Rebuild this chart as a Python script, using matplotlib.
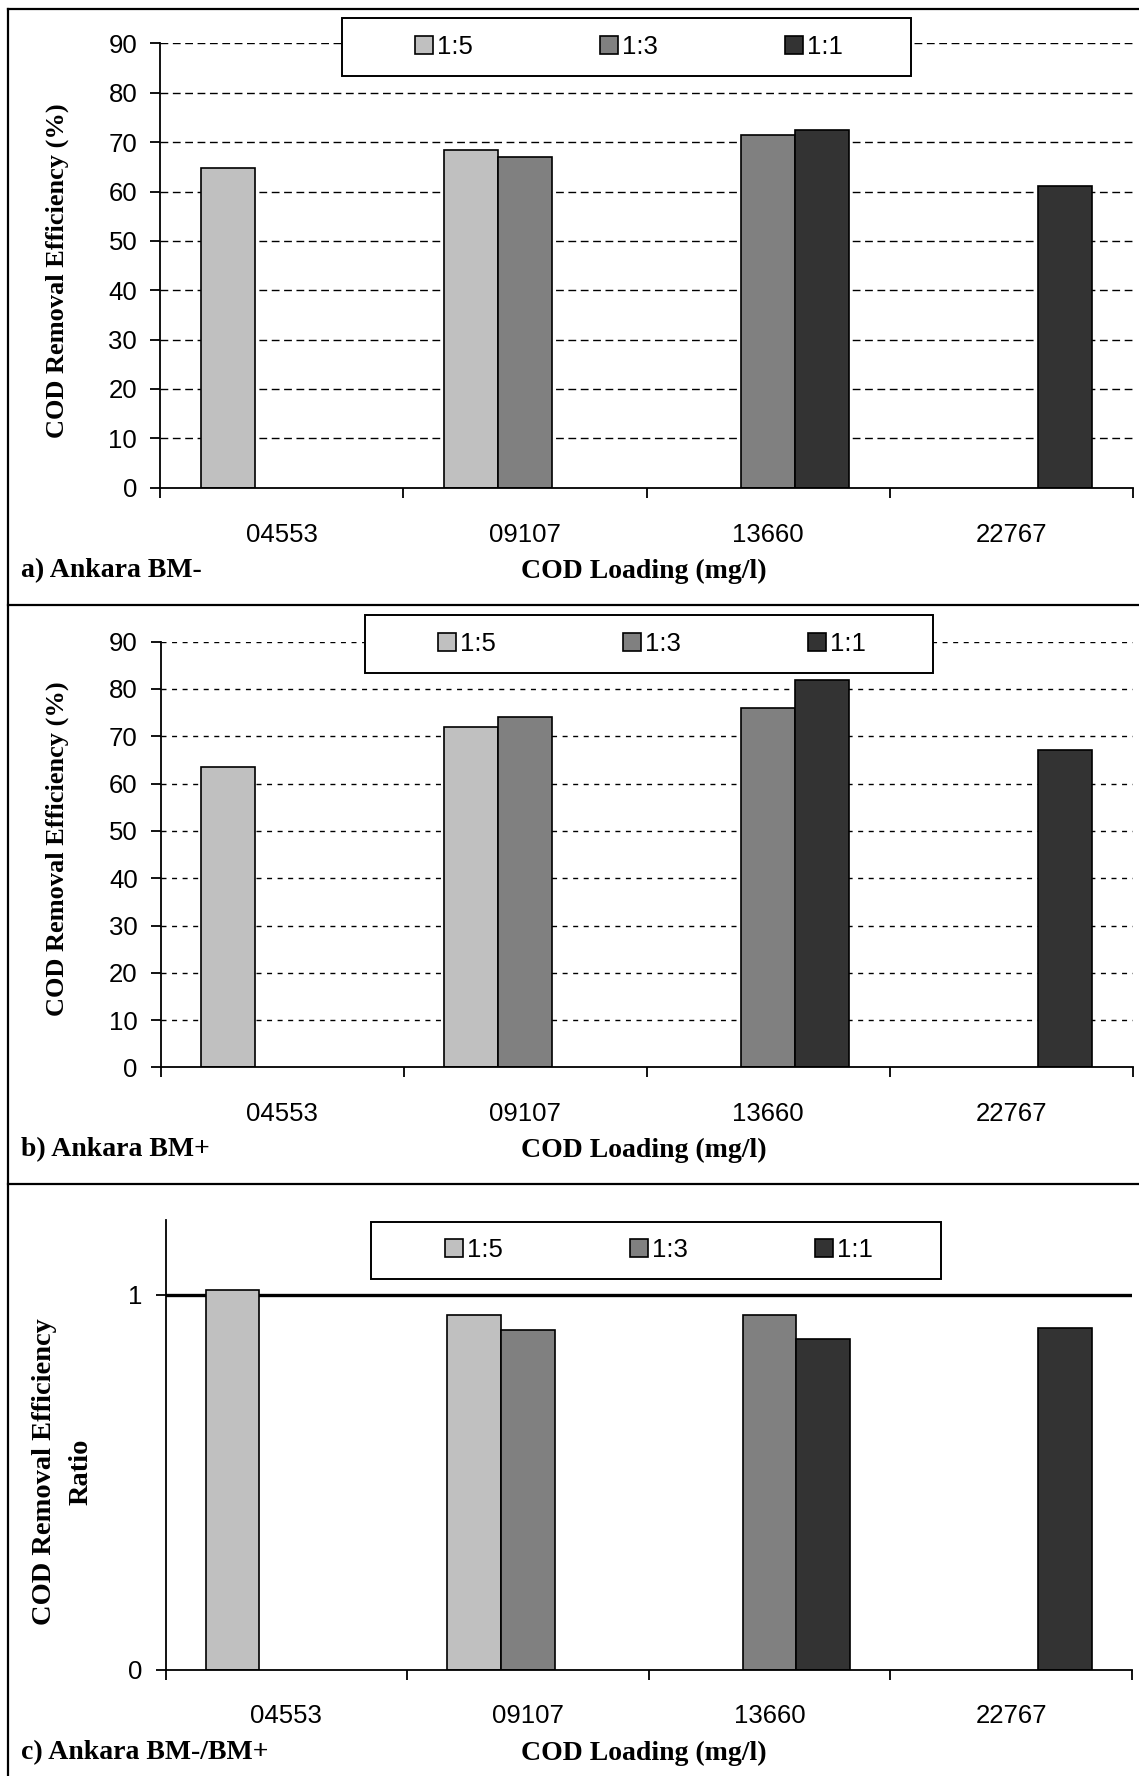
import numpy as np
import matplotlib
matplotlib.use("Agg")
import matplotlib.pyplot as plt
from matplotlib.patches import Rectangle
from matplotlib.lines import Line2D

# ---------------- data ----------------
categories = ["04553", "09107", "13660", "22767"]
series_names = ["1:5", "1:3", "1:1"]
colors = ["#c0c0c0", "#808080", "#333333"]

a_15 = [64.8, 68.5, np.nan, np.nan]
a_13 = [np.nan, 67.1, 71.5, np.nan]
a_11 = [np.nan, np.nan, 72.4, 61.1]

b_15 = [63.6, 72.0, np.nan, np.nan]
b_13 = [np.nan, 74.0, 75.9, np.nan]
b_11 = [np.nan, np.nan, 82.0, 67.1]

c_15 = [1.013, 0.945, np.nan, np.nan]
c_13 = [np.nan, 0.906, 0.945, np.nan]
c_11 = [np.nan, np.nan, 0.881, 0.910]

ab_yticks = [0, 10, 20, 30, 40, 50, 60, 70, 80, 90]
c_yticks = [0, 1]
panel_labels = ["a) Ankara BM-", "b) Ankara BM+", "c) Ankara BM-/BM+"]
x_title = "COD Loading (mg/l)"
y_title = "COD Removal Efficiency (%)"
y_title_c = "COD Removal Efficiency\nRatio"

# ---------------- layout ----------------
W, H = 1139, 1776
DPI = 100
fig = plt.figure(figsize=(W / DPI, H / DPI), dpi=DPI)
fig.patch.set_facecolor("white")


def fx(px):
    return px / W


def fy(py):
    return 1 - py / H


SERIF = "Liberation Serif"
SANS = "Liberation Sans"
TICK_FS = 18.5
SPINE_LW = 1.3


def make_panel(rect_px, series, ylim, yticks, grid_ls, grid_lw, legend_box, legend_center,
               label_y, ticklabel_off):
    l, t, r, b = rect_px
    ax = fig.add_axes([fx(l), fy(b), fx(r) - fx(l), fy(t) - fy(b)])
    w = 1 / 4.5
    x = np.arange(len(categories))
    bars = []
    for i, (vals, name, col) in enumerate(zip(series, series_names, colors)):
        bc = ax.bar(x + (i - 1) * w, vals, width=w, color=col, edgecolor="black",
                    linewidth=1.2, label=name, zorder=2)
        bars.append(bc)
    ax.set_xlim(-0.5, len(categories) - 0.5)
    ax.set_ylim(*ylim)
    ax.set_yticks(yticks)
    ax.set_yticklabels([str(v) for v in yticks], fontsize=TICK_FS, family=SANS)
    ax.set_xticks(np.arange(-0.5, len(categories), 1.0))
    ax.set_xticklabels([])
    ax.set_xticks(x, minor=True)
    ax.set_xticklabels(categories, minor=True, fontsize=TICK_FS, family=SANS)
    for lab in ax.get_xticklabels(minor=True):
        lab.set_va("center")
    ax.tick_params(axis="x", which="major", length=7, width=SPINE_LW, direction="out")
    ax.tick_params(axis="x", which="minor", length=0, pad=ticklabel_off / 1.389)
    ax.tick_params(axis="y", which="major", length=7, width=SPINE_LW, direction="out",
                   pad=9.4)
    for s in ["top", "right"]:
        ax.spines[s].set_visible(False)
    for s in ["left", "bottom"]:
        ax.spines[s].set_linewidth(SPINE_LW)
    ax.set_axisbelow(True)
    ax.yaxis.grid(True, color="black", linestyle=grid_ls, linewidth=grid_lw)
    ax.get_ygridlines()[0].set_visible(False)
    ax.patch.set_alpha(0)

    # legend box
    x0, y0, x1, y1 = legend_box
    box = Rectangle((fx(x0), fy(y1)), fx(x1) - fx(x0), fy(y0) - fy(y1),
                    transform=fig.transFigure, facecolor="white", edgecolor="black",
                    linewidth=1.4, zorder=4.5, clip_on=False)
    ax.add_artist(box)
    leg = ax.legend(handles=bars, labels=series_names, loc="center",
                    bbox_to_anchor=(fx(legend_center[0]), fy(legend_center[1])),
                    bbox_transform=fig.transFigure, ncol=3, frameon=False,
                    handlelength=0.68, handleheight=0.68, handletextpad=0.15,
                    columnspacing=4.97, prop={"family": SANS, "size": TICK_FS})
    leg.set_zorder(5)

    # x title
    fig.text(fx(643.5), fy(label_y), x_title, ha="center", va="center",
             fontsize=20, fontweight="bold", family=SERIF)
    return ax


dash_a = (0, (5.6, 3.3))
dash_b = (0, (3.6, 4.0))

label_ys = [571, 1150, 1753]

ax_a = make_panel((160, 43.5, 1133, 487.7), [a_15, a_13, a_11], (0, 90), ab_yticks,
                  dash_a, 1.0, (342, 18, 911, 76), (629, 47), label_ys[0], 47)
ax_b = make_panel((160.5, 641.7, 1133, 1067.4), [b_15, b_13, b_11], (0, 90), ab_yticks,
                  dash_b, 1.0, (364.6, 615, 933, 672.7), (652, 644), label_ys[1], 47)
ax_c = make_panel((165.5, 1219.5, 1132, 1669.5), [c_15, c_13, c_11], (0, 1.2), c_yticks,
                  "-", 2.4, (371, 1221.7, 941, 1279), (659, 1250), label_ys[2], 47)

# panel labels
for lbl, yy in zip(panel_labels, label_ys):
    fig.text(fx(21), fy(yy), lbl, ha="left", va="center", fontsize=20,
             fontweight="bold", family=SERIF)

# y titles
fig.text(fx(57), fy(271), y_title, rotation=90, ha="center", va="center",
         fontsize=19, fontweight="bold", family=SERIF)
fig.text(fx(57.5), fy(849), y_title, rotation=90, ha="center", va="center",
         fontsize=19, fontweight="bold", family=SERIF)
fig.text(fx(62.5), fy(1472), y_title_c, rotation=90, ha="center", va="center",
         multialignment="center", linespacing=1.6,
         fontsize=20.5, fontweight="bold", family=SERIF)

# chart borders
for seg in [([fx(8), 1.0], [fy(9), fy(9)]),
            ([fx(8), fx(8)], [fy(9), 0.0]),
            ([fx(8), 1.0], [fy(605), fy(605)]),
            ([fx(8), 1.0], [fy(1184), fy(1184)])]:
    fig.add_artist(Line2D(seg[0], seg[1], transform=fig.transFigure, color="black",
                          linewidth=1.6))

fig.savefig("out.png", dpi=DPI, facecolor="white")
